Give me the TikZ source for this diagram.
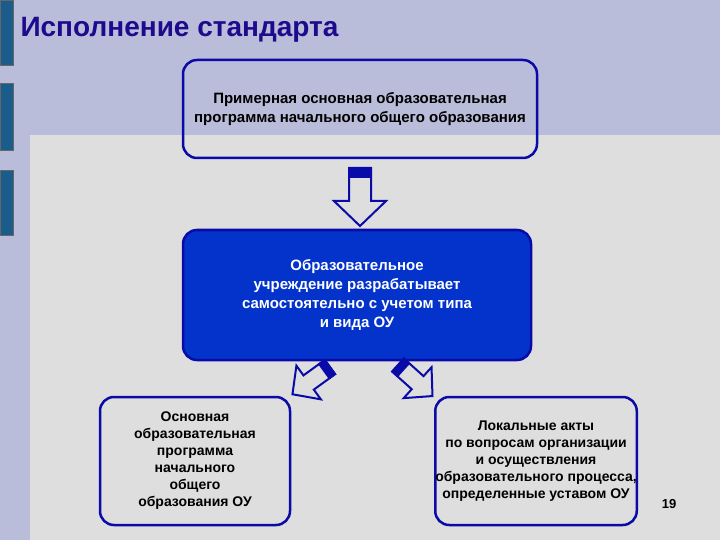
\documentclass[tikz,border=0pt]{standalone}
\usepackage{fontspec}
\setmainfont{Liberation Sans}
\definecolor{bgl}{HTML}{B9BDD9}
\definecolor{panel}{HTML}{DEDEDE}
\definecolor{bar}{HTML}{1A5C8C}
\definecolor{bord}{HTML}{0A0AA8}
\definecolor{midb}{HTML}{0433CC}
\definecolor{ttl}{HTML}{1E0A8C}
\tikzset{
 rbox/.style={draw=bord,line width=2.5pt,rounded corners=14pt,align=center,inner sep=0pt,font=\bfseries\fontsize{15}{19}\selectfont},
 sbox/.style={rbox,font=\bfseries\fontsize{14}{17}\selectfont},
 arr/.style={draw=bord,line width=2pt,fill=panel,line join=miter},
}
\newcommand{\myarrow}{%
 \path[arr] (-11,0)--(11,0)--(11,33)--(26,33)--(0,58)--(-26,33)--(-11,33)--cycle;
 \fill[bord] (-12,-1) rectangle (12,10);}
\begin{document}
\begin{tikzpicture}[x=1pt,y=-1pt]
\fill[bgl] (0,0) rectangle (720,540);
\useasboundingbox (0,0) rectangle (720,540);
\fill[panel] (30,135) rectangle (720,540);
\foreach \a/\b in {0/65,83/150,170/235} \fill[bar,draw=black!60] (0,\a) rectangle (13,\b);
\node[anchor=west,text=ttl,font=\bfseries\fontsize{28}{32}\selectfont] (title) at (17,30) {Исполнение стандарта};
\node[rbox,minimum width=354pt,minimum height=98pt] (top) at (360,109) {Примерная основная образовательная\\программа начального общего образования};
\node[rbox,fill=midb,text=white,minimum width=348pt,minimum height=130pt] (mid) at (357,295) {Образовательное\\учреждение разрабатывает\\самостоятельно с учетом типа\\и вида ОУ};
\node[sbox,minimum width=190pt,minimum height=128pt] (bl) at (195,461) {Основная\\образовательная\\программа\\начального\\общего\\образования ОУ};
\node[sbox,minimum width=197pt,minimum height=128pt] (br) at (536,461) {Локальные акты\\по вопросам организации\\и осуществления\\образовательного процесса,\\определенные уставом ОУ};
\begin{scope}[shift={(360,168)},scale=1]\myarrow\end{scope}
\begin{scope}[shift={(330,367)},rotate=-54,scale=0.8]\myarrow\end{scope}
\begin{scope}[shift={(398,365)},rotate=48,scale=0.8]\myarrow\end{scope}
\node[font=\bfseries\fontsize{13}{15}\selectfont] (pg) at (669,504) {19};
\end{tikzpicture}
\end{document}
